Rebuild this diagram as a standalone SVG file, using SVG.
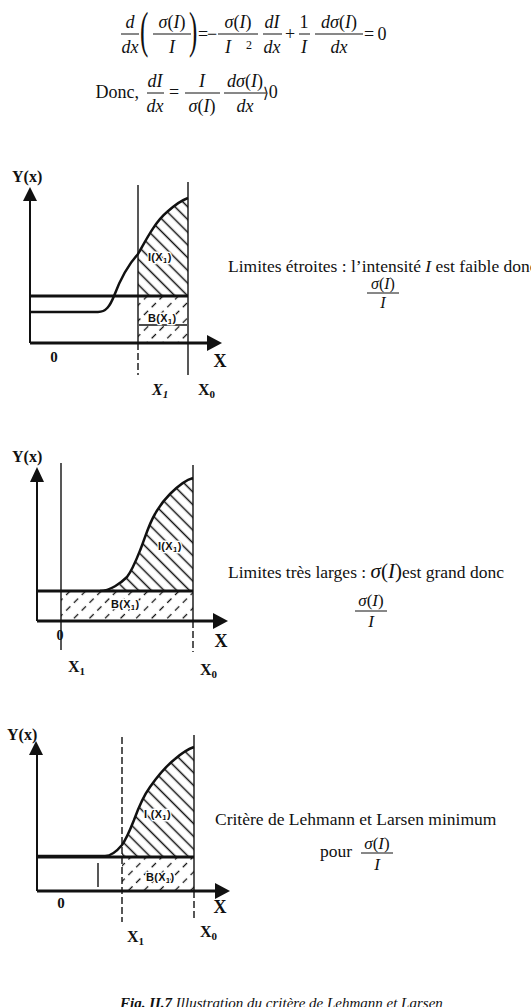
<svg xmlns="http://www.w3.org/2000/svg" width="531" height="1007" viewBox="0 0 531 1007">
<style>
.s{font-family:"Liberation Serif","Times New Roman",serif;fill:#111}
.m{font-size:18px}
.i{font-style:italic}
.c{text-anchor:middle}
.b{font-weight:bold}
.t{font-size:17.5px}
.h{font-family:"Liberation Sans",Arial,sans-serif;font-weight:bold;font-size:11px;fill:#111;stroke:#fff;stroke-width:2.5px;paint-order:stroke;letter-spacing:0.3px}
.bar{stroke:#111;stroke-width:1}
.ax{stroke:#111;stroke-width:2;fill:none}
.thk{stroke:#111;stroke-width:3;fill:none}
.cv{stroke:#111;stroke-width:2.5;fill:none}
.v{stroke:#111;stroke-width:1.4;fill:none}
.vd{stroke:#111;stroke-width:1.4;fill:none;stroke-dasharray:7 3}
.ah{fill:#111}
</style>
<defs>
<pattern id="hb" patternUnits="userSpaceOnUse" width="9" height="9" patternTransform="rotate(45)"><line x1="0" y1="4.5" x2="9" y2="4.5" stroke="#111" stroke-width="1.5"/></pattern>
<pattern id="hf" patternUnits="userSpaceOnUse" width="11" height="11" patternTransform="rotate(-45)"><line x1="0" y1="5.5" x2="11" y2="5.5" stroke="#111" stroke-width="1.3" stroke-dasharray="6 5"/></pattern>
<clipPath id="c1"><rect x="138" y="150" width="50" height="146"/></clipPath>
<clipPath id="c3"><rect x="122" y="700" width="72" height="157"/></clipPath>
</defs>

<g id="eq1" class="s m">
<text class="i c" x="130" y="28">d</text><line class="bar" x1="121" y1="34" x2="139" y2="34"/><text class="i c" x="130" y="53">dx</text>
<text transform="translate(140,47) scale(0.5,1)" font-size="50">(</text>
<text class="c" x="172" y="28"><tspan class="i">σ</tspan>(<tspan class="i">I</tspan>)</text><line class="bar" x1="153" y1="34" x2="191" y2="34"/><text class="i c" x="172" y="53">I</text>
<text transform="translate(189,47) scale(0.5,1)" font-size="50">)</text>
<text class="c" x="203" y="40">=</text><text class="c" x="212" y="40">−</text>
<text class="c" x="238" y="28"><tspan class="i">σ</tspan>(<tspan class="i">I</tspan>)</text><line class="bar" x1="218" y1="34" x2="258" y2="34"/><text class="i" x="225" y="53">I</text><text x="246" y="49" font-size="12">2</text>
<text class="i c" x="272" y="28">dI</text><line class="bar" x1="263" y1="34" x2="282" y2="34"/><text class="i c" x="272" y="53">dx</text>
<text class="c" x="290" y="40">+</text>
<text class="c" x="304" y="28">1</text><line class="bar" x1="299" y1="34" x2="310" y2="34"/><text class="i c" x="304" y="53">I</text>
<text class="c" x="339" y="28"><tspan class="i">dσ</tspan>(<tspan class="i">I</tspan>)</text><line class="bar" x1="315" y1="34" x2="363" y2="34"/><text class="i c" x="339" y="53">dx</text>
<text class="c" x="369" y="40">=</text><text class="c" x="382" y="40">0</text>
</g>

<g id="eq2" class="s m">
<text x="139" y="98" text-anchor="end">Donc,</text>
<text class="i c" x="155" y="87">dI</text><line class="bar" x1="147" y1="93" x2="164" y2="93"/><text class="i c" x="155" y="112">dx</text>
<text class="c" x="174" y="98">=</text>
<text class="i c" x="202" y="87">I</text><line class="bar" x1="185" y1="93" x2="220" y2="93"/><text class="c" x="202" y="112"><tspan class="i">σ</tspan>(<tspan class="i">I</tspan>)</text>
<text class="c" x="245" y="87"><tspan class="i">dσ</tspan>(<tspan class="i">I</tspan>)</text><line class="bar" x1="224" y1="93" x2="266" y2="93"/><text class="i c" x="245" y="112">dx</text>
<text x="263" y="98"><tspan font-family="DejaVu Serif, serif" font-size="15">⟩</tspan>0</text>
</g>

<g id="graph1">
<g clip-path="url(#c1)"><path d="M113,296 C120,280 128,265 138,254 C146,240 155,222 167,212 C176,204 182,200 188,198 L188,296 Z" fill="url(#hb)"/></g>
<rect x="138" y="296" width="50" height="47" fill="url(#hf)"/>
<line class="v" x1="139" y1="325" x2="187" y2="325"/>
<line class="ax" x1="30" y1="200" x2="30" y2="343"/>
<polygon class="ah" points="23,201 30,187 37,201"/>
<line class="thk" x1="30" y1="343" x2="210" y2="343"/>
<polygon class="ah" points="207,335 222,343 207,351"/>
<line class="thk" x1="30" y1="296" x2="188" y2="296"/>
<path class="cv" d="M30,312 H98 C106,312 110,306 114,296 C120,280 128,265 138,254 C146,240 155,222 167,212 C176,204 182,200 188,198"/>
<line class="v" x1="138" y1="185" x2="138" y2="343"/><line class="vd" x1="138" y1="343" x2="138" y2="375"/>
<line class="v" x1="188" y1="182" x2="188" y2="375"/>
<text class="h" x="148" y="261">I(X<tspan font-size="8" dy="2">1</tspan><tspan dy="-2">)</tspan></text>
<text class="h" x="148" y="322">B(X<tspan font-size="8" dy="2">1</tspan><tspan dy="-2">)</tspan></text>
<text class="s b" x="12" y="182" font-size="16">Y(x)</text>
<text class="s b c" x="54" y="362" font-size="15">0</text>
<text class="s b c" x="220" y="367" font-size="18">X</text>
<text class="s b i" x="152" y="395" font-size="16">X<tspan font-size="11" dy="3">1</tspan></text>
<text class="s b" x="198" y="395" font-size="16">X<tspan font-size="11" dy="3">0</tspan></text>
</g>
<g id="text1" class="s t">
<text x="228" y="272">Limites étroites : l’intensité <tspan class="i">I</tspan> est faible donc</text>
<text class="c" x="383" y="289" font-size="16"><tspan class="i">σ</tspan>(<tspan class="i">I</tspan>)</text>
<line class="bar" x1="367" y1="293" x2="399" y2="293"/>
<text class="c i" x="383" y="308" font-size="16">I</text>
</g>

<g id="graph2">
<path d="M108,591 C116,590 121,583 127,577 C133,569 137,558 141,548 C146,535 149,524 155,514 C160,505 164,500 170,494 C177,487 185,480 193,478 L193,591 Z" fill="url(#hb)"/>
<rect x="61" y="591" width="132" height="30" fill="url(#hf)"/>
<line class="ax" x1="37" y1="480" x2="37" y2="621"/>
<polygon class="ah" points="30,482 37,467 44,482"/>
<line class="thk" x1="37" y1="621" x2="216" y2="621"/>
<polygon class="ah" points="213,613 228,621 213,629"/>
<line class="thk" x1="37" y1="591" x2="193" y2="591"/>
<path class="cv" d="M100,591 C110,591 121,583 127,577 C133,569 137,558 141,548 C146,535 149,524 155,514 C160,505 164,500 170,494 C177,487 185,480 193,478"/>
<line class="v" x1="61" y1="463" x2="61" y2="650"/>
<line class="v" x1="193" y1="465" x2="193" y2="621"/><line class="vd" x1="193" y1="621" x2="193" y2="652"/>
<text class="h" x="158" y="550">I(X<tspan font-size="8" dy="2">1</tspan><tspan dy="-2">)</tspan></text>
<text class="h" x="111" y="608">B(X<tspan font-size="8" dy="2">1</tspan><tspan dy="-2">)</tspan></text>
<text class="s b" x="12" y="462" font-size="16">Y(x)</text>
<text class="s b c" x="60" y="640" font-size="14">0</text>
<text class="s b c" x="221" y="647" font-size="18">X</text>
<text class="s b" x="68" y="672" font-size="16">X<tspan font-size="11" dy="3">1</tspan></text>
<text class="s b" x="200" y="675" font-size="16">X<tspan font-size="11" dy="3">0</tspan></text>
</g>
<g id="text2" class="s t">
<text x="228" y="578">Limites très larges : <tspan font-size="21"><tspan class="i">σ</tspan>(<tspan class="i">I</tspan>)</tspan>est grand donc</text>
<text class="c" x="371" y="606" font-size="17"><tspan class="i">σ</tspan>(<tspan class="i">I</tspan>)</text>
<line class="bar" x1="355" y1="611" x2="387" y2="611"/>
<text class="c i" x="371" y="627" font-size="17">I</text>
</g>

<g id="graph3">
<g clip-path="url(#c3)"><path d="M105,857 C112,856 117,851 122,845 C127,838 130,830 134,820 C138,809 142,798 150,787 C157,777 165,767 175,759 C182,753 188,749 194,747 L194,857 Z" fill="url(#hb)"/></g>
<rect x="122" y="857" width="72" height="34" fill="url(#hf)"/>
<line class="ax" x1="37" y1="753" x2="37" y2="891"/>
<polygon class="ah" points="29,755 36,741 43,755"/>
<line class="thk" x1="37" y1="891" x2="218" y2="891"/>
<polygon class="ah" points="215,883 230,891 215,899"/>
<line class="thk" x1="37" y1="857" x2="194" y2="857"/>
<path class="cv" d="M37,856 H105 C112,856 117,851 122,845 C127,838 130,830 134,820 C138,809 142,798 150,787 C157,777 165,767 175,759 C182,753 188,749 194,747"/>
<line class="v" x1="98" y1="863" x2="98" y2="887"/>
<line class="vd" x1="122" y1="737" x2="122" y2="922"/>
<line class="v" x1="194" y1="735" x2="194" y2="891"/><line class="vd" x1="194" y1="891" x2="194" y2="920"/>
<text class="h" x="144" y="818">I (X<tspan font-size="8" dy="2">1</tspan><tspan dy="-2">)</tspan></text>
<text class="h" x="146" y="881">B(X<tspan font-size="8" dy="2">1</tspan><tspan dy="-2">)</tspan></text>
<text class="s b" x="7" y="740" font-size="16">Y(x)</text>
<text class="s b c" x="61" y="908" font-size="15">0</text>
<text class="s b c" x="220" y="913" font-size="18">X</text>
<text class="s b" x="127" y="942" font-size="16">X<tspan font-size="11" dy="3">1</tspan></text>
<text class="s b" x="200" y="937" font-size="16">X<tspan font-size="11" dy="3">0</tspan></text>
</g>
<g id="text3" class="s t">
<text x="215" y="825">Critère de Lehmann et Larsen minimum</text>
<text x="320" y="857">pour</text>
<text class="c" x="377" y="849" font-size="17"><tspan class="i">σ</tspan>(<tspan class="i">I</tspan>)</text>
<line class="bar" x1="361" y1="853" x2="393" y2="853"/>
<text class="c i" x="377" y="870" font-size="17">I</text>
</g>

<g id="caption" class="s i" font-size="15">
<text x="120" y="1008"><tspan font-weight="bold">Fig. II.7</tspan> Illustration du critère de Lehmann et Larsen</text>
</g>
</svg>
